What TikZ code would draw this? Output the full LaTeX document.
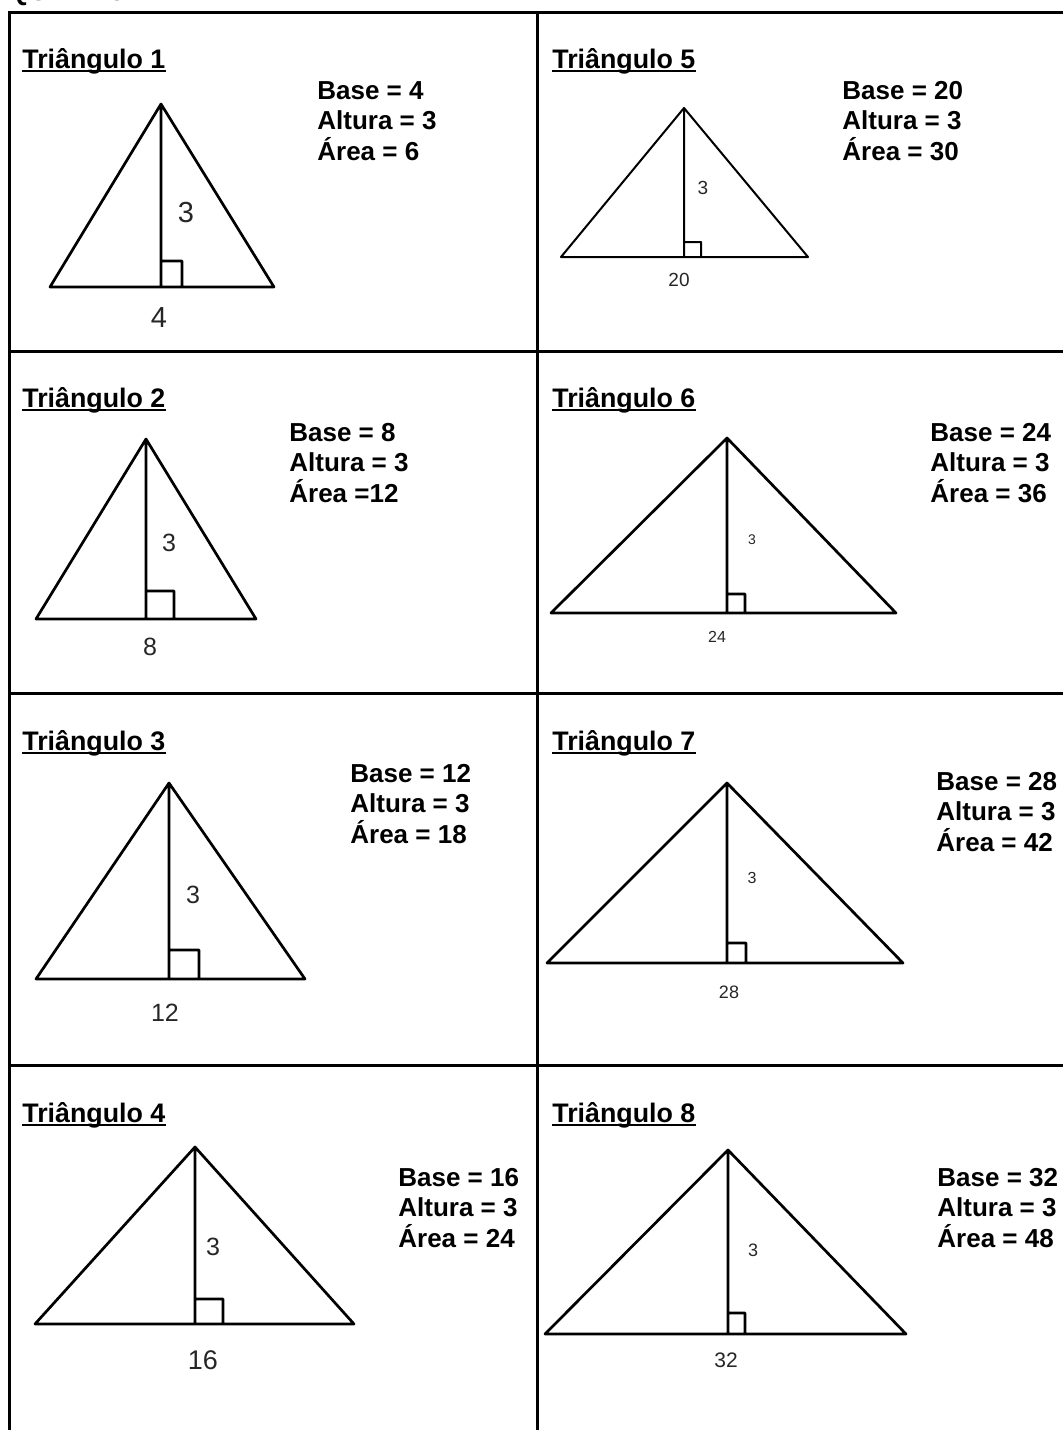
\documentclass[tikz,border=0pt]{standalone}
\usepackage{fontspec}
\setmainfont{Liberation Sans}
\usetikzlibrary{calc}
\tikzset{
  frm/.style={line width=1.5pt, line cap=rect},
  tri/.style={line width=1.35pt, line join=round},
  trl/.style={line width=1pt, line join=round},
  ulin/.style={line width=1pt},
  ttl/.style={anchor=base west, inner sep=0pt, font=\fontsize{13.4}{15}\selectfont\bfseries},
  dat/.style={anchor=north west, align=left, inner sep=0pt, font=\fontsize{13}{15.2}\selectfont\bfseries},
  lbl/.style={inner sep=0pt, text=black!85},
}

\begin{document}
\begin{tikzpicture}[x=0.5pt,y=-0.5pt]
  \useasboundingbox (0,0) rectangle (1062,1430);
  % heading, cut off at the top edge
  \begin{scope}
    \clip (0,0) rectangle (1062,1430);
    \node[ttl] (qd) at (8,0.5) {QUADRO 1};
  \end{scope}
  % table
  \draw[frm] (9,1430) |- (1062,12);
  \draw[frm] (537,12) -- (537,1430);
  \draw[frm] (9,351) -- (1062,351);
  \draw[frm] (9,693) -- (1062,693);
  \draw[frm] (9,1065) -- (1062,1065);
  % titles
  \node[ttl] (t1) at (22,68) {Triângulo 1};
  \node[ttl] (t2) at (22,407) {Triângulo 2};
  \node[ttl] (t3) at (22,750) {Triângulo 3};
  \node[ttl] (t4) at (22,1122) {Triângulo 4};
  \node[ttl] (t5) at (552,68) {Triângulo 5};
  \node[ttl] (t6) at (552,407) {Triângulo 6};
  \node[ttl] (t7) at (552,750) {Triângulo 7};
  \node[ttl] (t8) at (552,1122) {Triângulo 8};
  \foreach \t in {t1,t2,t3,t4,t5,t6,t7,t8}
    \draw[ulin] ([yshift=-1.6pt]\t.base west) -- ([yshift=-1.6pt]\t.base east);
  % data
  \node[dat] (d1) at (317,81) {Base = 4\\Altura = 3\\Área = 6};
  \node[dat] (d2) at (289,423) {Base = 8\\Altura = 3\\Área =12};
  \node[dat] (d3) at (350,764) {Base = 12\\Altura = 3\\Área = 18};
  \node[dat] (d4) at (398,1168) {Base = 16\\Altura = 3\\Área = 24};
  \node[dat] (d5) at (842,81) {Base = 20\\Altura = 3\\Área = 30};
  \node[dat] (d6) at (930,423) {Base = 24\\Altura = 3\\Área = 36};
  \node[dat] (d7) at (936,772) {Base = 28\\Altura = 3\\Área = 42};
  \node[dat] (d8) at (937,1168) {Base = 32\\Altura = 3\\Área = 48};
  % triangle 1
  \coordinate (a1) at (161,104); \coordinate (l1) at (50,287); \coordinate (r1) at (274,287);
  \draw[tri] (l1) -- (a1) -- (r1) -- cycle (a1) -- (a1 |- l1) rectangle ++(21,-26);
  \node[lbl, font=\fontsize{14.5}{17}\selectfont] (h1) at (186,213) {3};
  \node[lbl, font=\fontsize{14.5}{17}\selectfont] (b1) at (159,318) {4};
  % triangle 2
  \coordinate (a2) at (146,439); \coordinate (l2) at (36,619); \coordinate (r2) at (256,619);
  \draw[tri] (l2) -- (a2) -- (r2) -- cycle (a2) -- (a2 |- l2) rectangle ++(28,-28);
  \node[lbl, font=\fontsize{12.5}{15}\selectfont] (h2) at (169,543) {3};
  \node[lbl, font=\fontsize{12.5}{15}\selectfont] (b2) at (150,647) {8};
  % triangle 3
  \coordinate (a3) at (169,783); \coordinate (l3) at (36,979); \coordinate (r3) at (305,979);
  \draw[tri] (l3) -- (a3) -- (r3) -- cycle (a3) -- (a3 |- l3) rectangle ++(30,-29);
  \node[lbl, font=\fontsize{12.5}{15}\selectfont] (h3) at (193,895) {3};
  \node[lbl, font=\fontsize{12.5}{15}\selectfont] (b3) at (165,1013) {12};
  % triangle 4
  \coordinate (a4) at (195,1147); \coordinate (l4) at (35,1324); \coordinate (r4) at (354,1324);
  \draw[tri] (l4) -- (a4) -- (r4) -- cycle (a4) -- (a4 |- l4) rectangle ++(28,-25);
  \node[lbl, font=\fontsize{12.5}{15}\selectfont] (h4) at (213,1247) {3};
  \node[lbl, font=\fontsize{13.5}{16}\selectfont] (b4) at (203,1360) {16};
  % triangle 5
  \coordinate (a5) at (684,108); \coordinate (l5) at (561,257); \coordinate (r5) at (808,257);
  \draw[trl] (l5) -- (a5) -- (r5) -- cycle (a5) -- (a5 |- l5) rectangle ++(17,-15);
  \node[lbl, font=\fontsize{9.5}{11}\selectfont] (h5) at (703,188) {3};
  \node[lbl, font=\fontsize{9.5}{11}\selectfont] (b5) at (679,280) {20};
  % triangle 6
  \coordinate (a6) at (727,438); \coordinate (l6) at (551,613); \coordinate (r6) at (896,613);
  \draw[tri] (l6) -- (a6) -- (r6) -- cycle (a6) -- (a6 |- l6) rectangle ++(18,-19);
  \node[lbl, font=\fontsize{7}{8}\selectfont] (h6) at (752,540) {3};
  \node[lbl, font=\fontsize{8}{9}\selectfont] (b6) at (717,637) {24};
  % triangle 7
  \coordinate (a7) at (727,783); \coordinate (l7) at (547,963); \coordinate (r7) at (903,963);
  \draw[tri] (l7) -- (a7) -- (r7) -- cycle (a7) -- (a7 |- l7) rectangle ++(19,-20);
  \node[lbl, font=\fontsize{8}{9}\selectfont] (h7) at (752,878) {3};
  \node[lbl, font=\fontsize{9}{10}\selectfont] (b7) at (729,992) {28};
  % triangle 8
  \coordinate (a8) at (728,1150); \coordinate (l8) at (545,1334); \coordinate (r8) at (906,1334);
  \draw[tri] (l8) -- (a8) -- (r8) -- cycle (a8) -- (a8 |- l8) rectangle ++(17,-21);
  \node[lbl, font=\fontsize{9}{10}\selectfont] (h8) at (753,1250) {3};
  \node[lbl, font=\fontsize{10.5}{12}\selectfont] (b8) at (726,1360) {32};
\end{tikzpicture}
\end{document}
